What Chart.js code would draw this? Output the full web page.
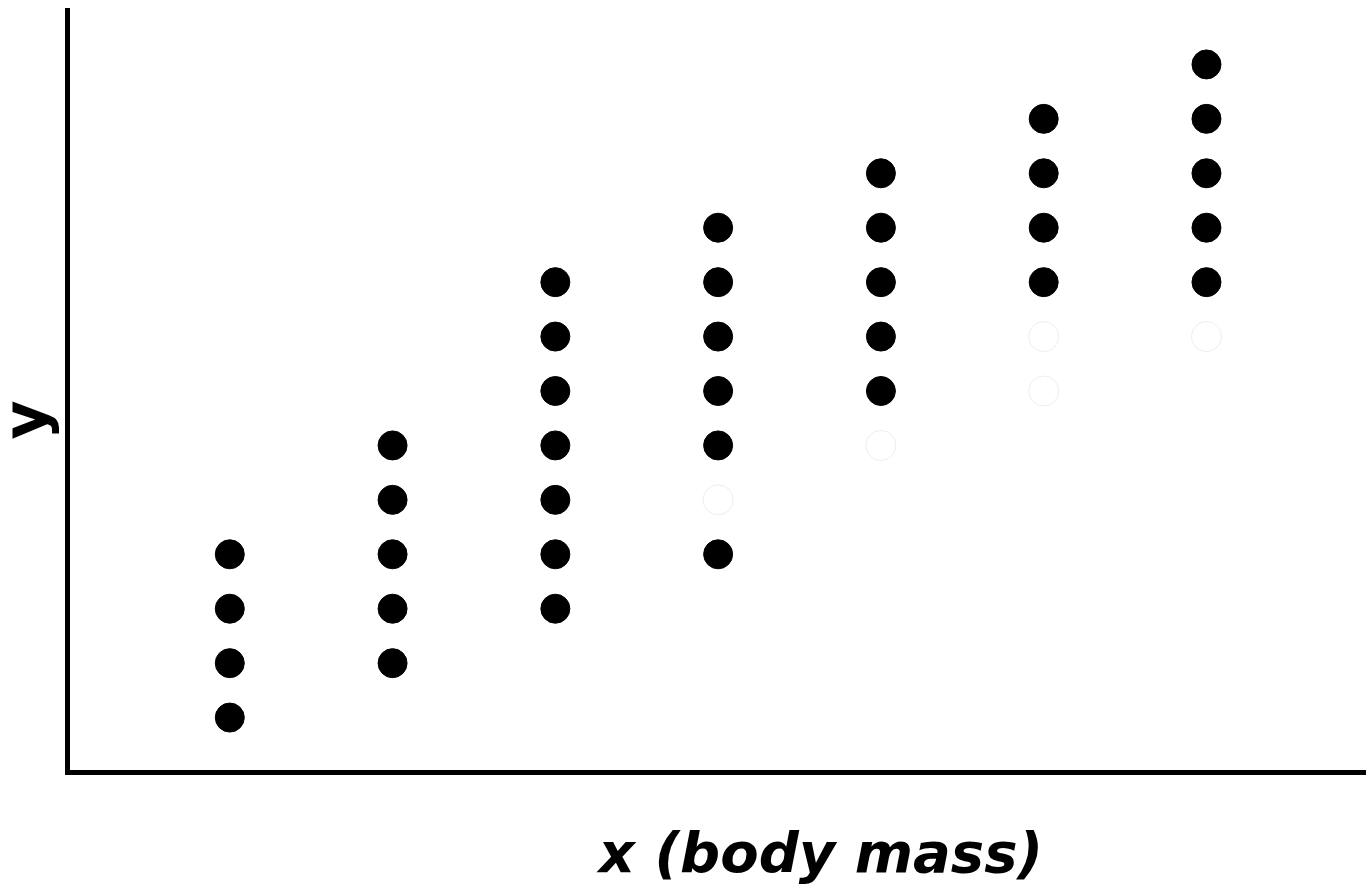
<!DOCTYPE html>
<html>
<head>
<meta charset="utf-8">
<script src="https://cdn.jsdelivr.net/npm/chart.js@4/dist/chart.umd.min.js"></script>
<style>
  html, body { margin: 0; padding: 0; background: #ffffff; }
  #wrap { width: 1366px; height: 884px; position: relative; }
</style>
</head>
<body>
<div id="wrap"><canvas id="c"></canvas></div>
<script>
// Column positions along x (body mass)
const columns = [1, 2, 3, 4, 5, 6, 7];
// Filled (black) dot levels for each column
const filledLevels = [
  [0, 1, 2, 3],
  [1, 2, 3, 4, 5],
  [2, 3, 4, 5, 6, 7, 8],
  [3, 5, 6, 7, 8, 9],
  [6, 7, 8, 9, 10],
  [8, 9, 10, 11],
  [8, 9, 10, 11, 12]
];
// Hollow (white) dot levels for each column
const hollowLevels = [
  [],
  [],
  [],
  [4],
  [5],
  [6, 7],
  [7]
];
const xAxisLabel = 'x (body mass)';
const yAxisLabel = 'y';

function toPoints(levels) {
  const pts = [];
  columns.forEach((cx, i) => levels[i].forEach(v => pts.push({ x: cx, y: v })));
  return pts;
}

const labelPlugin = {
  id: 'axisLabels',
  afterDraw(chart) {
    const ctx = chart.ctx;
    ctx.save();
    ctx.fillStyle = '#000000';
    ctx.font = 'oblique 700 56px "DejaVu Sans"';
    ctx.textAlign = 'center';
    ctx.textBaseline = 'alphabetic';
    ctx.fillText(xAxisLabel, 821, 872);
    ctx.translate(46, 420);
    ctx.rotate(-Math.PI / 2);
    ctx.font = '700 60px "DejaVu Sans"';
    ctx.fillText(yAxisLabel, 0, 0);
    ctx.restore();
  }
};

new Chart(document.getElementById('c'), {
  type: 'scatter',
  data: {
    datasets: [
      {
        label: 'hollow',
        data: toPoints(hollowLevels),
        pointRadius: 15,
        pointHoverRadius: 15,
        backgroundColor: '#ffffff',
        borderColor: 'rgba(0,0,0,0.07)',
        borderWidth: 1
      },
      {
        label: 'filled',
        data: toPoints(filledLevels),
        pointRadius: 14.5,
        pointHoverRadius: 14.5,
        backgroundColor: '#000000',
        borderColor: '#000000',
        borderWidth: 1
      }
    ]
  },
  options: {
    responsive: true,
    maintainAspectRatio: false,
    animation: false,
    events: [],
    layout: { autoPadding: false, padding: { left: 67, top: 10, right: 0, bottom: 112 } },
    plugins: {
      legend: { display: false },
      tooltip: { enabled: false },
      title: { display: false }
    },
    scales: {
      x: {
        type: 'linear',
        min: 0,
        max: 7.98,
        grid: { display: false, drawTicks: false, tickLength: 0 },
        ticks: { display: false },
        border: { display: true, color: '#000000', width: 5 }
      },
      y: {
        type: 'linear',
        min: -1,
        max: 13,
        grid: { display: false, drawTicks: false, tickLength: 0 },
        ticks: { display: false },
        border: { display: true, color: '#000000', width: 5 }
      }
    }
  },
  plugins: [labelPlugin]
});
</script>
</body>
</html>
